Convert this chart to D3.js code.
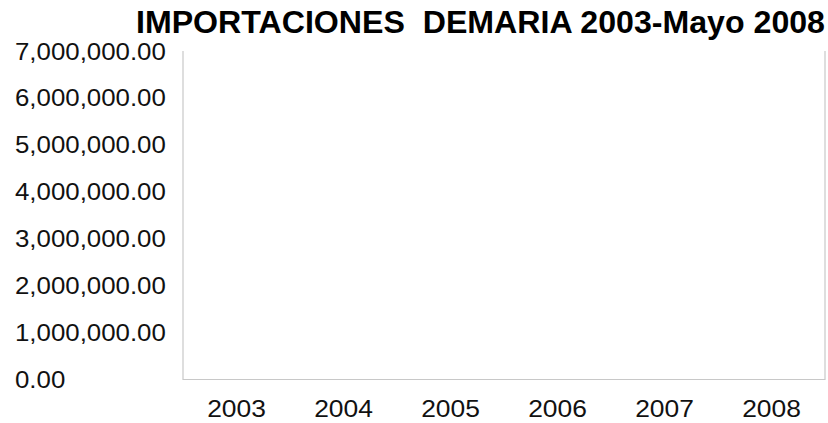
<!DOCTYPE html>
<html>
<head>
<meta charset="utf-8">
<script src="https://cdn.jsdelivr.net/npm/d3@7"></script>
<style>
  html, body { margin: 0; padding: 0; background: #fff; }
  svg { display: block; font-family: Arial, "Liberation Sans", sans-serif; }
</style>
</head>
<body>
<svg id="chart"></svg>
<script>
const titulo = "IMPORTACIONES  DEMARIA 2003-Mayo 2008";
const anios = ["2003", "2004", "2005", "2006", "2007", "2008"];
// the picture shows no visible bars: every value reads as zero
const importaciones = [0, 0, 0, 0, 0, 0];
const ticksY = [0, 1000000, 2000000, 3000000, 4000000, 5000000, 6000000, 7000000];

const width = 828;
const height = 423;
const plot = { left: 183, right: 825, top: 51, bottom: 379.5 };

const svg = d3.select("#chart")
  .attr("width", width)
  .attr("height", height);

// categorias a paso constante (ancho del area / 6)
const x = d3.scaleBand().domain(anios).range([plot.left, plot.right])
  .paddingInner(0.3).paddingOuter(0.15);
const y = d3.scaleLinear().domain([0, 7000000]).range([plot.bottom, plot.top]);

// titulo
svg.append("text")
  .attr("x", 136)
  .attr("y", 33)
  .attr("font-size", 31)
  .attr("font-weight", "bold")
  .attr("fill", "#000")
  .attr("textLength", 689)
  .attr("lengthAdjust", "spacingAndGlyphs")
  .style("white-space", "pre")
  .text(titulo);

// barras (todas en cero)
svg.selectAll("rect.barra")
  .data(importaciones)
  .enter()
  .append("rect")
  .attr("class", "barra")
  .attr("x", (d, i) => x(anios[i]))
  .attr("y", d => y(d))
  .attr("width", x.bandwidth())
  .attr("height", d => y(0) - y(d))
  .attr("fill", "#4f81bd");

// etiquetas del eje y, alineadas a la izquierda
const fmt = d3.format(",.2f");
svg.append("g")
  .selectAll("text")
  .data(ticksY)
  .enter()
  .append("text")
  .attr("transform", d => `translate(15, ${y(d) + 8.5}) scale(1.1, 1)`)
  .attr("font-size", 23.5)
  .attr("fill", "#111")
  .text(d => fmt(d));

// etiquetas del eje x
svg.append("g")
  .selectAll("text")
  .data(anios)
  .enter()
  .append("text")
  .attr("transform", d => `translate(${x(d) + x.bandwidth() / 2}, 417) scale(1.1, 1)`)
  .attr("text-anchor", "middle")
  .attr("font-size", 24)
  .attr("fill", "#111")
  .text(d => d);

// bordes del area de trazado (izquierda, abajo, derecha)
svg.append("path")
  .attr("d", `M${plot.left},${plot.top}V${plot.bottom}H${plot.right}V${plot.top}`)
  .attr("fill", "none")
  .attr("stroke", "#c8c8c8")
  .attr("stroke-width", 1.2);
</script>
</body>
</html>
